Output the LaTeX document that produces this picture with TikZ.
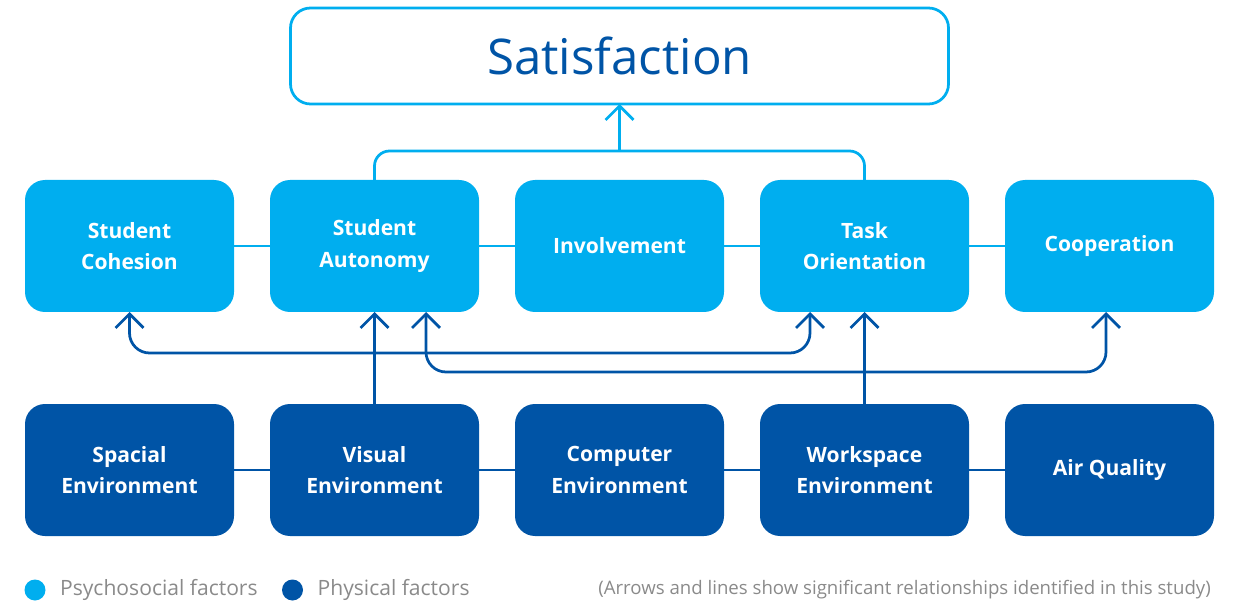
\documentclass[tikz,border=0pt]{standalone}
\usepackage{fontspec}
\setmainfont{Open Sans}
\usepackage{xcolor}
\usepackage{tikz}
\usetikzlibrary{arrows.meta,positioning}

\definecolor{psyblue}{HTML}{00AEEF}
\definecolor{phyblue}{HTML}{0054A6}
\definecolor{legendgray}{HTML}{8A8A8A}

\begin{document}
\begin{tikzpicture}[>={Straight Barb[length=0.28cm,width=0.56cm]},node distance=0.72cm,
            line width=0.055cm,
            psy/.style={fill=psyblue,text=white,rounded corners=0.4cm,outer sep=0pt,
                minimum width=4.18cm,minimum height=2.64cm,align=center,
                font=\bfseries\fontsize{12}{18}\selectfont},
            phy/.style={psy,fill=phyblue},
            psyline/.style={draw=psyblue},
            phyline/.style={draw=phyblue},
            dot/.style={circle,minimum size=0.42cm,inner sep=0pt}]
        \tikzstyle{legend}=[text=legendgray,font=\fontsize{12}{14}\selectfont,anchor=west]

        \useasboundingbox (0,0) rectangle (25.08,-12.1);

        % psychosocial row
        \node[psy] (cohesion) at (2.59,-4.92) {Student\\Cohesion};
        \node[psy] (autonomy) [right=of cohesion] {Student\\Autonomy};
        \node[psy] (involvement) [right=of autonomy] {Involvement};
        \node[psy] (task) [right=of involvement] {Task\\Orientation};
        \node[psy] (cooperation) [right=of task] {Cooperation};

        % physical row
        \node[phy] (spacial) [below=1.84cm of cohesion] {Spacial\\Environment};
        \node[phy] (visual) [right=of spacial] {Visual\\Environment};
        \node[phy] (computer) [right=of visual] {Computer\\Environment};
        \node[phy] (workspace) [right=of computer] {Workspace\\Environment};
        \node[phy] (air) [right=of workspace] {Air Quality};

        \node[draw=psyblue,rounded corners=0.4cm,minimum width=13.16cm,minimum height=1.92cm,
            outer sep=0pt,text=phyblue,font=\fontsize{28}{34}\selectfont]
            (satisfaction) [above=1.52cm of involvement] {Satisfaction};

        % lines within rows
        \path[psyline] (cohesion) edge (autonomy) (autonomy) edge (involvement)
            (involvement) edge (task) (task) edge (cooperation);
        \path[phyline] (spacial) edge (visual) (visual) edge (computer)
            (computer) edge (workspace) (workspace) edge (air);

        % to satisfaction
        \coordinate (merge) at (satisfaction.south |- 0,-3.02);
        \draw[psyline,rounded corners=0.3cm] (autonomy.north) |- (merge) -| (task.north);
        \draw[psyline,->] (merge) -- (satisfaction.south);

        % physical to psychosocial
        \coordinate (lowA) at (0,-7.06);
        \coordinate (lowB) at (0,-7.44);
        \coordinate (taskin) at ([xshift=-1.09cm]task.south);
        \coordinate (autoin) at ([xshift=1.03cm]autonomy.south);
        \coordinate (coopin) at ([xshift=-0.07cm]cooperation.south);
        \draw[phyline,<->,rounded corners=0.4cm] (cohesion.south) -- (cohesion.south |- lowA)
            -| (taskin);
        \draw[phyline,<->,rounded corners=0.4cm] (autoin) -- (autoin |- lowB) -| (coopin);
        \draw[phyline,->] (visual.north) -- (autonomy.south);
        \draw[phyline,->] (workspace.north) -- (task.south);

        % legend
        \node[dot,fill=psyblue] (psydot) at (0.70,-11.8) {};
        \node[legend] (psytext) [right=0.12cm of psydot] {Psychosocial factors};
        \node[dot,fill=phyblue] (phydot) at (5.85,-11.8) {};
        \node[legend] (phytext) [right=0.12cm of phydot] {Physical factors};
        \node[text=legendgray,font=\fontsize{10.6}{13}\selectfont,anchor=east] (note) at (24.36,-11.8)
            {(Arrows and lines show significant relationships identified in this study)};
    \end{tikzpicture}
\end{document}
